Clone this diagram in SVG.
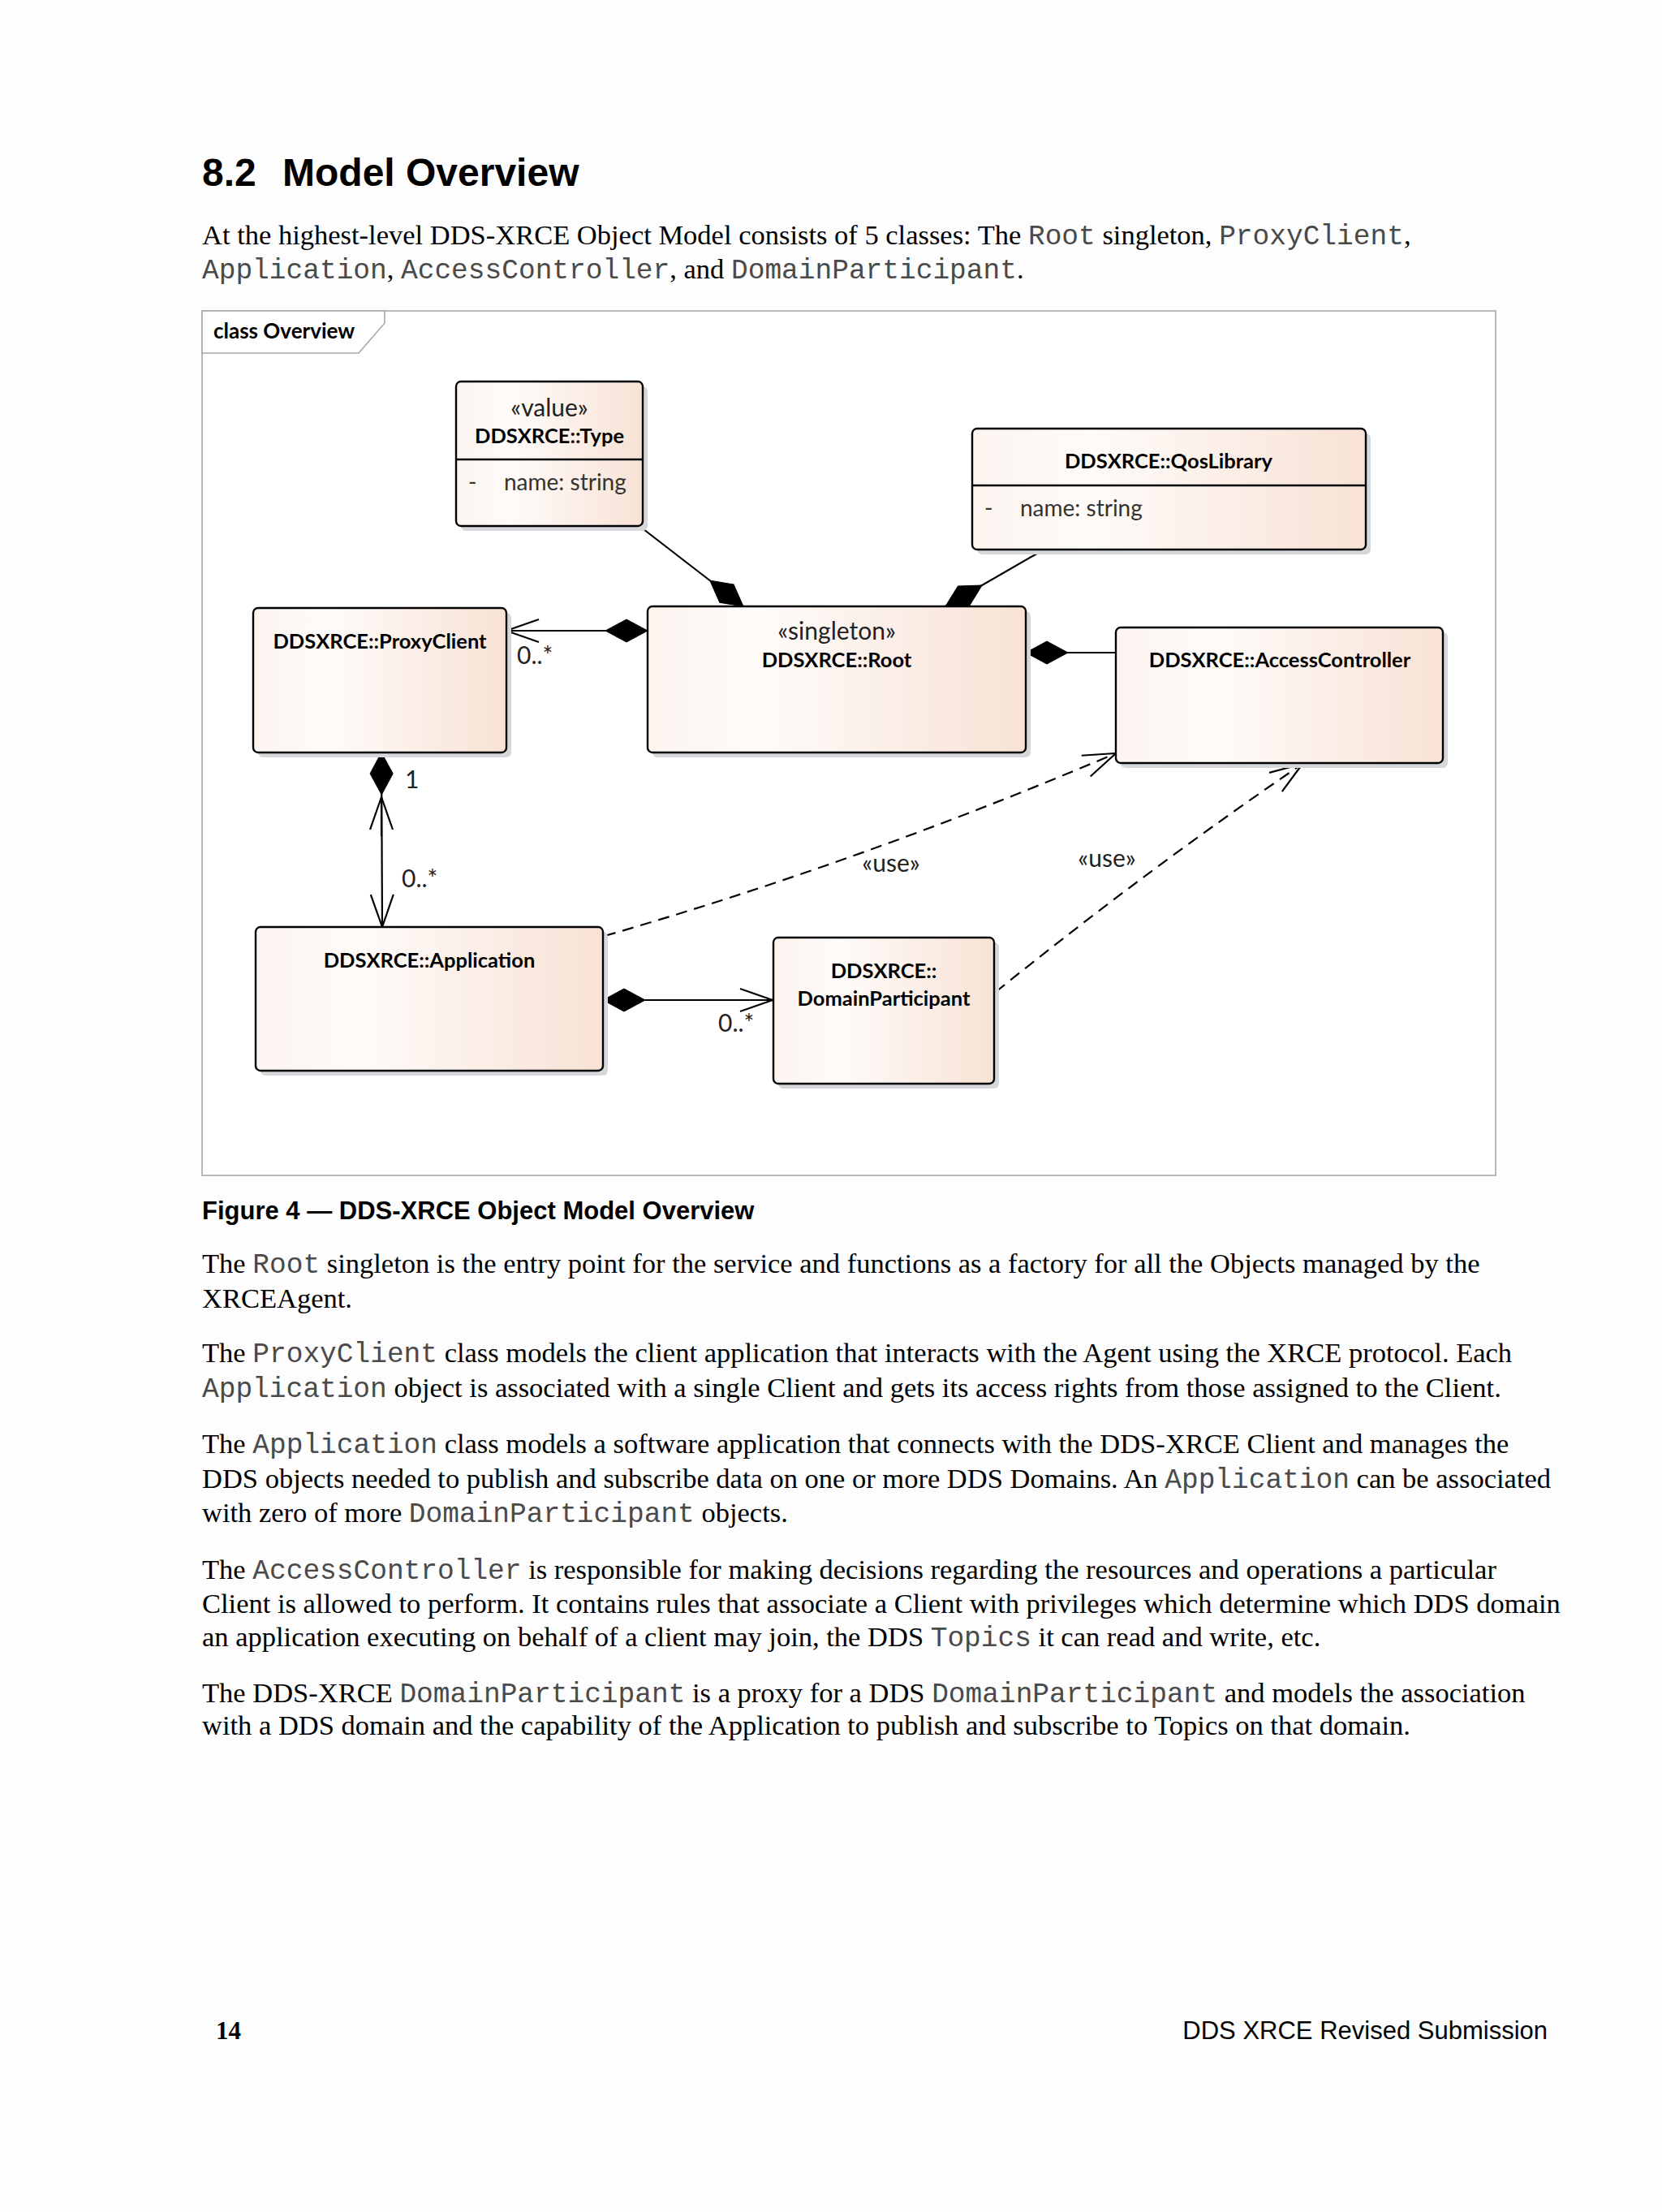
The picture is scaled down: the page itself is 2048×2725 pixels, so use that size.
<svg xmlns="http://www.w3.org/2000/svg" width="2048" height="2725" viewBox="0 0 2048 2725">
<style>
.bg{fill:#fdfdfd}
.frame{fill:#ffffff;stroke:#a8a8a8;stroke-width:1.6}
.tab{fill:#ffffff;stroke:#a8a8a8;stroke-width:1.6}
.box{fill:url(#g);stroke:#000;stroke-width:2.4}
.sh{fill:#d5d7db}
.div{stroke:#000;stroke-width:2.4}
.t{font-family:Lato,"Open Sans",sans-serif;font-size:25.5px;font-weight:bold;fill:#000;text-anchor:middle}
.s{font-family:Lato,"Open Sans",sans-serif;font-size:30px;fill:#222;text-anchor:middle}
.a{font-family:Lato,"Open Sans",sans-serif;font-size:28px;fill:#333}
.lbl{font-family:Lato,"Open Sans",sans-serif;font-size:30px;fill:#222}
.c{fill:none;stroke:#000;stroke-width:2.2}
.d{fill:none;stroke:#000;stroke-width:2.2;stroke-dasharray:14 9}
.h{font-family:"Liberation Sans",Arial,sans-serif;font-weight:bold;font-size:48px;fill:#000}
.p{font-family:"Liberation Serif","Times New Roman",serif;font-size:34.5px;fill:#000}
.m{font-family:"Liberation Mono","Courier New",monospace;font-size:34.5px;fill:#4a4a4a}
.cap{font-family:"Liberation Sans",Arial,sans-serif;font-weight:bold;font-size:31px;fill:#000}
.ft{font-family:"Liberation Sans",Arial,sans-serif;font-size:31px;fill:#000}
.fn{font-family:"Liberation Serif","Times New Roman",serif;font-weight:bold;font-size:31px;fill:#000}
</style>
<defs>
<linearGradient id="g" x1="0" y1="0" x2="1" y2="0">
<stop offset="0" stop-color="#fcf4ef"/>
<stop offset="0.3" stop-color="#fefbf9"/>
<stop offset="1" stop-color="#f8e2d5"/>
</linearGradient>
<marker id="dia" markerUnits="userSpaceOnUse" markerWidth="60" markerHeight="32" viewBox="-2 -16 56 32" refX="0" refY="0" orient="auto">
<path d="M0,0 L26,-14 L52,0 L26,14 Z" fill="#000" stroke="#000" stroke-width="1"/>
</marker>
<marker id="arr" markerUnits="userSpaceOnUse" markerWidth="48" markerHeight="36" viewBox="-44 -18 48 36" refX="0" refY="0" orient="auto">
<path d="M-40,-14 L0,0 L-40,14" fill="none" stroke="#000" stroke-width="2.2" stroke-dasharray="none"/>
</marker>
</defs>
<rect class="bg" x="0" y="0" width="2048" height="2725"/>

<text class="h" x="249" y="229">8.2</text>
<text class="h" x="348" y="229">Model Overview</text>
<text class="p" x="249" y="301">At the highest-level DDS-XRCE Object Model consists of 5 classes: The <tspan class="m">Root</tspan> singleton, <tspan class="m">ProxyClient</tspan>,</text>
<text class="p" x="249" y="343"><tspan class="m">Application</tspan>, <tspan class="m">AccessController</tspan>, and <tspan class="m">DomainParticipant</tspan>.</text>

<g id="frame">
<rect class="frame" x="249" y="383" width="1594" height="1065"/>
<path class="tab" d="M249,383 L474,383 L474,398 L442,435 L249,435 Z"/>
<text class="t" x="263" y="417" style="text-anchor:start;font-size:26px">class Overview</text>
</g>

<g id="connectors">
<path class="c" d="M916,747 L793,652" marker-start="url(#dia)"/>
<path class="c" d="M1165,747 L1283,679" marker-start="url(#dia)"/>
<path class="c" d="M798,777 L624,777" marker-start="url(#dia)" marker-end="url(#arr)"/>
<path class="c" d="M1264,804 L1375,804" marker-start="url(#dia)"/>
<path class="c" d="M470,927 L471,1142" marker-start="url(#dia)" marker-end="url(#arr)"/>
<path class="c" d="M470,1030 L470,982" marker-end="url(#arr)"/>
<path class="c" d="M743,1232 L952,1232" marker-start="url(#dia)" marker-end="url(#arr)"/>
<path class="d" d="M745,1153 Q1060,1062 1375,928" marker-end="url(#arr)"/>
<path class="d" d="M1227,1222 Q1418,1068 1605,941" marker-end="url(#arr)"/>
<text class="lbl" x="637" y="818">0..*</text>
<text class="lbl" x="499" y="971">1</text>
<text class="lbl" x="495" y="1093">0..*</text>
<text class="lbl" x="885" y="1271">0..*</text>
<text class="s" x="1098" y="1074">«use»</text>
<text class="s" x="1364" y="1068">«use»</text>
</g>

<g id="type">
<rect class="sh" x="568" y="476" width="230" height="178" rx="6"/>
<rect class="box" x="562" y="470" width="230" height="178" rx="6"/>
<line class="div" x1="562" y1="566" x2="792" y2="566"/>
<text class="s" x="677" y="513">«value»</text>
<text class="t" x="677" y="546">DDSXRCE::Type</text>
<text class="a" x="577" y="604">-</text>
<text class="a" x="621" y="604">name: string</text>
</g>

<g id="qoslibrary">
<rect class="sh" x="1204" y="534" width="485" height="149" rx="6"/>
<rect class="box" x="1198" y="528" width="485" height="149" rx="6"/>
<line class="div" x1="1198" y1="598" x2="1683" y2="598"/>
<text class="t" x="1440" y="577">DDSXRCE::QosLibrary</text>
<text class="a" x="1213" y="636">-</text>
<text class="a" x="1257" y="636">name: string</text>
</g>

<g id="proxyclient">
<rect class="sh" x="318" y="755" width="312" height="178" rx="6"/>
<rect class="box" x="312" y="749" width="312" height="178" rx="6"/>
<text class="t" x="468" y="799">DDSXRCE::ProxyClient</text>
</g>

<g id="root">
<rect class="sh" x="804" y="753" width="466" height="180" rx="6"/>
<rect class="box" x="798" y="747" width="466" height="180" rx="6"/>
<text class="s" x="1031" y="788">«singleton»</text>
<text class="t" x="1031" y="822">DDSXRCE::Root</text>
</g>

<g id="accesscontroller">
<rect class="sh" x="1381" y="779" width="403" height="167" rx="6"/>
<rect class="box" x="1375" y="773" width="403" height="167" rx="6"/>
<text class="t" x="1577" y="822">DDSXRCE::AccessController</text>
</g>

<g id="application">
<rect class="sh" x="321" y="1148" width="428" height="177" rx="6"/>
<rect class="box" x="315" y="1142" width="428" height="177" rx="6"/>
<text class="t" x="529" y="1192">DDSXRCE::Application</text>
</g>

<g id="domainparticipant">
<rect class="sh" x="959" y="1161" width="272" height="180" rx="6"/>
<rect class="box" x="953" y="1155" width="272" height="180" rx="6"/>
<text class="t" x="1089" y="1205">DDSXRCE::</text>
<text class="t" x="1089" y="1239">DomainParticipant</text>
</g>

<text class="cap" x="249" y="1502">Figure 4 — DDS-XRCE Object Model Overview</text>

<text class="p" x="249" y="1568">The <tspan class="m">Root</tspan> singleton is the entry point for the service and functions as a factory for all the Objects managed by the</text>
<text class="p" x="249" y="1611">XRCEAgent.</text>

<text class="p" x="249" y="1678">The <tspan class="m">ProxyClient</tspan> class models the client application that interacts with the Agent using the XRCE protocol. Each</text>
<text class="p" x="249" y="1721"><tspan class="m">Application</tspan> object is associated with a single Client and gets its access rights from those assigned to the Client.</text>

<text class="p" x="249" y="1790">The <tspan class="m">Application</tspan> class models a software application that connects with the DDS-XRCE Client and manages the</text>
<text class="p" x="249" y="1833">DDS objects needed to publish and subscribe data on one or more DDS Domains. An <tspan class="m">Application</tspan> can be associated</text>
<text class="p" x="249" y="1875">with zero of more <tspan class="m">DomainParticipant</tspan> objects.</text>

<text class="p" x="249" y="1945">The <tspan class="m">AccessController</tspan> is responsible for making decisions regarding the resources and operations a particular</text>
<text class="p" x="249" y="1987">Client is allowed to perform. It contains rules that associate a Client with privileges which determine which DDS domain</text>
<text class="p" x="249" y="2028">an application executing on behalf of a client may join, the DDS <tspan class="m">Topics</tspan> it can read and write, etc.</text>

<text class="p" x="249" y="2097">The DDS-XRCE <tspan class="m">DomainParticipant</tspan> is a proxy for a DDS <tspan class="m">DomainParticipant</tspan> and models the association</text>
<text class="p" x="249" y="2137">with a DDS domain and the capability of the Application to publish and subscribe to Topics on that domain.</text>

<text class="fn" x="266" y="2512">14</text>
<text class="ft" x="1907" y="2512" text-anchor="end">DDS XRCE Revised Submission</text>
</svg>
